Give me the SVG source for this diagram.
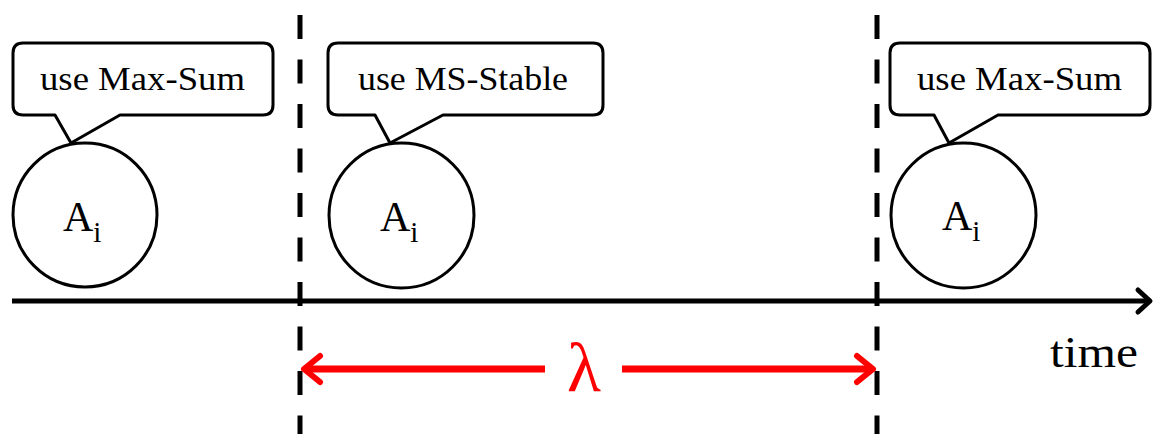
<svg xmlns="http://www.w3.org/2000/svg" width="1154" height="434" viewBox="0 0 1154 434">
<style>
.call{fill:#fff;stroke:#000;stroke-width:3;stroke-linejoin:round}
.node{fill:#fff;stroke:#000;stroke-width:3}
.t{font-family:"Liberation Serif","DejaVu Serif",serif;fill:#000}
.lbl{font-size:33px}
.a{font-size:42px}
.sub{font-size:29px}
.dash{stroke:#000;stroke-width:5;stroke-dasharray:24 20.5;fill:none}
</style>
<rect width="1154" height="434" fill="#fff"/>
<g id="connectors">
<line class="dash" x1="300" y1="15" x2="300" y2="434"/>
<line class="dash" x1="877" y1="15" x2="877" y2="434"/>
<line x1="12" y1="301" x2="1148" y2="301" stroke="#000" stroke-width="5"/>
<polyline points="1138,290 1150,301 1138,312" fill="none" stroke="#000" stroke-width="5" stroke-linecap="round" stroke-linejoin="round"/>
<line x1="305" y1="369" x2="545" y2="369" stroke="#f00" stroke-width="7"/>
<line x1="622" y1="369" x2="871" y2="369" stroke="#f00" stroke-width="7"/>
<polyline points="320,356 304,369 320,382" fill="none" stroke="#f00" stroke-width="6" stroke-linecap="round" stroke-linejoin="round"/>
<polyline points="857,356 873,369 857,382" fill="none" stroke="#f00" stroke-width="6" stroke-linecap="round" stroke-linejoin="round"/>
<text x="584" y="391" font-family="'Liberation Serif','DejaVu Serif',serif" font-size="70" fill="#f00" text-anchor="middle">λ</text>
<text class="t" x="1050" y="367" font-size="44" textLength="88" lengthAdjust="spacingAndGlyphs">time</text>
</g>
<g id="agent1">
<circle class="node" cx="85" cy="215" r="72"/>
<text class="t a" x="63" y="231">A<tspan class="sub" dy="11">i</tspan></text>
</g>
<g id="callout1">
<path class="call" d="M23,43 H263 Q273,43 273,53 V105 Q273,115 263,115 H120 L71,143 L55,115 H23 Q13,115 13,105 V53 Q13,43 23,43 Z"/>
<text class="t lbl" x="40" y="90" textLength="205" lengthAdjust="spacingAndGlyphs">use Max-Sum</text>
</g>
<g id="agent2">
<circle class="node" cx="401.5" cy="215.5" r="72.5"/>
<text class="t a" x="380" y="231">A<tspan class="sub" dy="11">i</tspan></text>
</g>
<g id="callout2">
<path class="call" d="M338,43 H593 Q603,43 603,53 V105 Q603,115 593,115 H443 L390,143 L375,115 H338 Q328,115 328,105 V53 Q328,43 338,43 Z"/>
<text class="t lbl" x="358" y="90" textLength="210" lengthAdjust="spacingAndGlyphs">use MS-Stable</text>
</g>
<g id="agent3">
<circle class="node" cx="963.5" cy="215.5" r="72.5"/>
<text class="t a" x="942" y="230">A<tspan class="sub" dy="11">i</tspan></text>
</g>
<g id="callout3">
<path class="call" d="M900,43 H1140 Q1150,43 1150,53 V105 Q1150,115 1140,115 H998 L949,143 L934,115 H900 Q890,115 890,105 V53 Q890,43 900,43 Z"/>
<text class="t lbl" x="917" y="90" textLength="205" lengthAdjust="spacingAndGlyphs">use Max-Sum</text>
</g>
</svg>
